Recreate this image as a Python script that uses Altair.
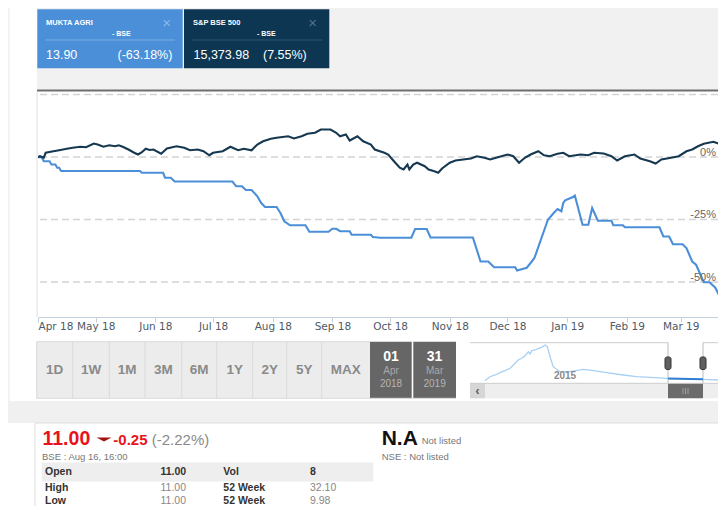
import altair as alt
import pandas as pd

# ---------------- chart values ----------------
mukta_dates = [
    "2018-04-01", "2018-04-03", "2018-04-04", "2018-04-07", "2018-04-08", "2018-04-10",
    "2018-04-11", "2018-04-12", "2018-04-13", "2018-05-24", "2018-05-25", "2018-06-05",
    "2018-06-06", "2018-06-09", "2018-06-11", "2018-07-11", "2018-07-13", "2018-07-16",
    "2018-07-18", "2018-07-21", "2018-07-24", "2018-07-26", "2018-07-28", "2018-08-03",
    "2018-08-05", "2018-08-07", "2018-08-10", "2018-08-18", "2018-08-20", "2018-08-30",
    "2018-09-01", "2018-09-03", "2018-09-05", "2018-09-10", "2018-09-11", "2018-09-21",
    "2018-09-22", "2018-09-26", "2018-10-12", "2018-10-14", "2018-10-20", "2018-10-22",
    "2018-11-13", "2018-11-17", "2018-11-21", "2018-11-24", "2018-12-05", "2018-12-06",
    "2018-12-11", "2018-12-13", "2018-12-15", "2018-12-22", "2018-12-25", "2018-12-27",
    "2018-12-29", "2018-12-30", "2018-12-31", "2019-01-04", "2019-01-05", "2019-01-09",
    "2019-01-12", "2019-01-14", "2019-01-17", "2019-01-24", "2019-01-25", "2019-01-30",
    "2019-01-31", "2019-02-18", "2019-02-20", "2019-02-23", "2019-02-25", "2019-03-02",
    "2019-03-04", "2019-03-07", "2019-03-09", "2019-03-13", "2019-03-16", "2019-03-19",
    "2019-03-25", "2019-03-27",
]
mukta_pct = [
    0.0, -0.2, -1.7, -1.7, -3.0, -3.0,
    -4.3, -4.3, -5.6, -5.6, -6.3, -6.3,
    -8.3, -8.3, -9.8, -9.8, -11.7, -11.7,
    -13.2, -13.2, -15.7, -18.4, -20.0, -20.0,
    -22.4, -25.7, -27.3, -27.3, -29.9, -29.9,
    -28.7, -28.7, -29.7, -29.7, -31.1, -31.1,
    -32.0, -32.3, -32.3, -28.8, -28.8, -32.2,
    -32.2, -41.8, -41.8, -44.1, -44.1, -45.4,
    -44.3, -42.4, -40.4, -25.1, -22.4, -20.8,
    -21.7, -18.4, -17.3, -16.0, -15.4, -27.1,
    -27.1, -20.4, -25.5, -25.5, -27.3, -27.3,
    -28.1, -28.1, -31.8, -31.8, -34.9, -34.9,
    -36.4, -41.8, -43.1, -50.1, -50.1, -52.3,
    -61.6, -63.18,
]

sp_dates = [
    "2018-04-01", "2018-04-02", "2018-04-04", "2018-04-05", "2018-04-09", "2018-04-12",
    "2018-04-16", "2018-04-19", "2018-04-23", "2018-04-26", "2018-04-30", "2018-05-02",
    "2018-05-05", "2018-05-08", "2018-05-11", "2018-05-13", "2018-05-15", "2018-05-18",
    "2018-05-21", "2018-05-23", "2018-05-25", "2018-05-27", "2018-05-29", "2018-05-31",
    "2018-06-04", "2018-06-07", "2018-06-12", "2018-06-16", "2018-06-19", "2018-06-23",
    "2018-06-26", "2018-06-29", "2018-07-01", "2018-07-06", "2018-07-10", "2018-07-14",
    "2018-07-17", "2018-07-21", "2018-07-24", "2018-07-27", "2018-07-31", "2018-08-03",
    "2018-08-09", "2018-08-12", "2018-08-16", "2018-08-19", "2018-08-23", "2018-08-26",
    "2018-08-31", "2018-09-03", "2018-09-05", "2018-09-08", "2018-09-10", "2018-09-14",
    "2018-09-17", "2018-09-21", "2018-09-23", "2018-09-28", "2018-09-30", "2018-10-03",
    "2018-10-06", "2018-10-08", "2018-10-10", "2018-10-11", "2018-10-13", "2018-10-15",
    "2018-10-19", "2018-10-21", "2018-10-24", "2018-10-26", "2018-10-28", "2018-11-01",
    "2018-11-04", "2018-11-08", "2018-11-12", "2018-11-15", "2018-11-19", "2018-11-22",
    "2018-11-26", "2018-12-01", "2018-12-04", "2018-12-07", "2018-12-10", "2018-12-13",
    "2018-12-17", "2018-12-20", "2018-12-23", "2018-12-27", "2018-12-30", "2019-01-02",
    "2019-01-08", "2019-01-12", "2019-01-15", "2019-01-20", "2019-01-24", "2019-01-27",
    "2019-01-31", "2019-02-05", "2019-02-08", "2019-02-13", "2019-02-16", "2019-02-19",
    "2019-02-24", "2019-02-28", "2019-03-04", "2019-03-07", "2019-03-10", "2019-03-13",
    "2019-03-18", "2019-03-21", "2019-03-23", "2019-03-25", "2019-03-27",
]
sp_pct = [
    -0.1, 0.3, -0.3, 1.7, 2.3, 2.7,
    3.3, 3.7, 4.1, 3.9, 5.4, 5.0,
    4.1, 4.7, 4.3, 4.7, 4.1, 3.0,
    1.7, 1.0, 1.9, 3.3, 2.8, 3.0,
    1.3, 3.4, 4.3, 3.7, 2.7, 3.0,
    2.3, 0.7, 1.7, 2.3, 4.1, 2.7,
    3.3, 2.7, 5.0, 6.3, 7.3, 7.7,
    8.3, 7.4, 8.3, 9.3, 9.7, 11.0,
    11.0, 9.7, 8.3, 9.0, 6.6, 8.3,
    6.3, 5.0, 3.0, 1.7, 1.0, -1.7,
    -4.3, -5.0, -3.0, -5.0, -3.0, -2.3,
    -3.7, -5.0, -5.7, -6.3, -4.6, -2.3,
    -1.4, -1.0, -0.6, 0.3, -0.3, -1.0,
    -0.1, 1.0, 0.3, -2.3, -0.3, 1.0,
    2.3, 0.7, 0.3, 1.3, 1.7, 0.3,
    1.0, 0.7, 1.7, 1.4, 0.3, -1.4,
    0.3, 1.0, -0.6, -1.7, -2.6, -1.0,
    -0.3, 0.3, 2.3, 3.0, 4.3, 5.3,
    6.1, 5.3, 6.2, 5.7, 7.55,
]

series_names = ["MUKTA AGRI", "S&P BSE 500"]
series_colors = ["#4a8fd8", "#163850"]
grid_levels = [25, 0, -25, -50]
pct_labels = [0, -25, -50]

# navigator (full history, relative level)
nav_years = [2013.02, 2013.16, 2013.31, 2013.45, 2013.59, 2013.74, 2013.88, 2013.97,
             2014.07, 2014.16, 2014.26, 2014.31, 2014.36, 2014.45, 2014.55, 2014.64,
             2014.74, 2014.80, 2014.88, 2014.97, 2015.16, 2015.45, 2015.83, 2016.12,
             2016.50, 2016.97, 2017.35, 2017.74, 2018.21, 2018.25, 2018.59, 2018.88,
             2019.25, 2019.68]
nav_level = [0.8, 11.9, 16.7, 23.1, 28.6, 35.3, 49.2, 58.3,
             63.1, 69.4, 81.4, 75.0, 84.2, 86.1, 90.8, 93.6,
             100.0, 95.3, 67.5, 39.7, 25.8, 25.8, 32.5, 28.6,
             23.1, 16.7, 11.9, 10.3, 7.5, 6.9, 6.2, 5.5,
             4.7, 2.8]
nav_window = [2018.25, 2019.25]

# ---------------- layout ----------------
W, H = 680, 225          # plot area
LEFT, TOP = 38, 92       # page position of the plot origin
FONT = "Liberation Sans"


def X(v):
    return round(v - LEFT, 2)


def Y(v):
    return round(v - TOP, 2)


NOAX = dict(scale=None, axis=None)

# ---------------- main chart ----------------
df_lines = pd.concat([
    pd.DataFrame({"date": pd.to_datetime(mukta_dates), "pct": mukta_pct, "series": series_names[0]}),
    pd.DataFrame({"date": pd.to_datetime(sp_dates), "pct": sp_pct, "series": series_names[1]}),
], ignore_index=True)

x_scale = alt.Scale(domain=[alt.DateTime(year=2018, month=4, date=1),
                            alt.DateTime(year=2019, month=3, date=20, hours=9, minutes=36)])
y_scale = alt.Scale(domain=[-64, 26], nice=False, zero=False)

x_axis = alt.Axis(title=None, format="%b %y", tickCount={"interval": "month", "step": 1},
                  labelFlush=True, labelOverlap=False, grid=False,
                  domainColor="#c3d0de", tickColor="#c3d0de", tickSize=5,
                  labelColor="#4d5a66", labelFont="DejaVu Sans", labelFontSize=10.5,
                  labelPadding=-1)

lines = alt.Chart(df_lines).mark_line(strokeWidth=2.1, clip=True).encode(
    x=alt.X("date:T", scale=x_scale, axis=x_axis),
    y=alt.Y("pct:Q", scale=y_scale, axis=None),
    color=alt.Color("series:N", scale=alt.Scale(domain=series_names, range=series_colors), legend=None),
)

grid = alt.Chart(pd.DataFrame({"level": grid_levels})).mark_rule(
    color="#d4d4d4", strokeWidth=1.3, strokeDash=[7, 4]
).encode(y=alt.Y("level:Q", scale=y_scale, axis=None))

pct_df = pd.DataFrame({"level": pct_labels, "label": [f"{v}%" for v in pct_labels]})
pct_text = alt.Chart(pct_df).mark_text(
    align="right", baseline="alphabetic", dy=-1.5, font=FONT, fontSize=11, color="#666666"
).encode(x=alt.value(X(716)), y=alt.Y("level:Q", scale=y_scale, axis=None), text="label:N")

main = alt.layer(grid, lines, pct_text)

# ---------------- navigator ----------------
nav_df = pd.DataFrame({"yr": nav_years, "lvl": nav_level})
nav_sel_df = nav_df[(nav_df.yr >= nav_window[0]) & (nav_df.yr <= nav_window[1])]
nav_x = alt.Scale(domain=[2013, 2020], range=[X(484.25), X(729.25)])
nav_y = alt.Scale(domain=[0, 100], range=[Y(381), Y(345)])
nav_light = alt.Chart(nav_df).mark_line(color="#a9d0f2", strokeWidth=1.3).encode(
    x=alt.X("yr:Q", scale=nav_x, axis=None), y=alt.Y("lvl:Q", scale=nav_y, axis=None))
nav_sel = alt.Chart(nav_sel_df).mark_line(color="#2f7fd2", strokeWidth=2).encode(
    x=alt.X("yr:Q", scale=nav_x, axis=None), y=alt.Y("lvl:Q", scale=nav_y, axis=None))
nav = alt.layer(nav_light, nav_sel)

# ---------------- page furniture (page coordinates) ----------------
rects = [
    (37, 726, 8, 90, "#f1f1f1"),
    (37.3, 182.7, 9.3, 68.3, "#4a8fd7"),
    (184, 329.3, 9.3, 68.3, "#0d3652"),
    (37, 726, 89.5, 91.5, "#6f6f6f"),
    (36.7, 370, 341.7, 398.3, "#ececec"),
    (370, 411.7, 341.7, 398.3, "#666666"),
    (413.3, 456, 341.7, 398.3, "#666666"),
    (470, 726, 383.3, 398.3, "#eeeeee"),
    (470, 485, 383.3, 398.3, "#d6d6d6"),
    (668, 703, 383.3, 398.3, "#6b6b6b"),
    (8, 726, 401, 423, "#f0f0f0"),
    (41.7, 373.3, 462.5, 481.5, "#eeeeee"),
]
rect_df = pd.DataFrame(rects, columns=["x", "x2", "y", "y2", "fill"])
rect_df[["x", "x2"]] = rect_df[["x", "x2"]].map(X)
rect_df[["y", "y2"]] = rect_df[["y", "y2"]].map(Y)
rect_layer = alt.Chart(rect_df).mark_rect().encode(
    x=alt.X("x:Q", **NOAX), x2="x2:Q", y=alt.Y("y:Q", **NOAX), y2="y2:Q",
    color=alt.Color("fill:N", scale=None))

rules = [
    (9, 9, 8, 401, "#e6e6e6"),
    (37, 37, 91.5, 317, "#e0e0e0"),
    (45, 175, 40, 40, "#7aaee5"),
    (192, 322, 40, 40, "#2e5672"),
    (36.7, 370, 341.7, 341.7, "#dadada"),
    (36.7, 456, 398.3, 398.3, "#dadada"),
    (36.7, 36.7, 341.7, 398.3, "#dadada"),
    (470, 668, 342.7, 342.7, "#cccccc"),
    (703, 726, 342.7, 342.7, "#cccccc"),
    (668, 668, 342.7, 383.3, "#bbbbbb"),
    (703, 703, 342.7, 383.3, "#bbbbbb"),
    (470, 726, 383.3, 383.3, "#cccccc"),
    (683, 683, 388, 394, "#a0a0a0"),
    (685.5, 685.5, 388, 394, "#a0a0a0"),
    (688, 688, 388, 394, "#a0a0a0"),
    (35, 726, 423, 423, "#dddddd"),
    (35, 35, 423, 519, "#dddddd"),
]
for sx in [72.7, 109.3, 145, 181.7, 216.7, 252.7, 286.7, 321.7]:
    rules.append((sx, sx, 341.7, 398.3, "#dadada"))
rule_df = pd.DataFrame(rules, columns=["x", "x2", "y", "y2", "c"])
rule_df[["x", "x2"]] = rule_df[["x", "x2"]].map(X)
rule_df[["y", "y2"]] = rule_df[["y", "y2"]].map(Y)
rule_layer = alt.Chart(rule_df).mark_rule(strokeWidth=1).encode(
    x=alt.X("x:Q", **NOAX), x2="x2:Q", y=alt.Y("y:Q", **NOAX), y2="y2:Q",
    color=alt.Color("c:N", scale=None))

handles = pd.DataFrame([(665, 671, 357, 369.5), (700, 706, 357, 369.5)],
                       columns=["x", "x2", "y", "y2"])
handles[["x", "x2"]] = handles[["x", "x2"]].map(X)
handles[["y", "y2"]] = handles[["y", "y2"]].map(Y)
handle_layer = alt.Chart(handles).mark_rect(
    cornerRadius=2, fill="#606060", stroke="#333333", strokeWidth=1).encode(
    x=alt.X("x:Q", **NOAX), x2="x2:Q", y=alt.Y("y:Q", **NOAX), y2="y2:Q")

tri_layer = alt.Chart(pd.DataFrame({"k": [0]})).mark_point(
    shape="M-1,-0.27L1,-0.27L0,0.27Z", filled=True, size=225, color="#a31212", opacity=1
).encode(x=alt.value(X(104)), y=alt.value(Y(439.5)))

texts = [
    ("MUKTA AGRI", 46, 23, 7.5, "#ffffff", "bold", "left"),
    ("- BSE", 112, 33.5, 7, "#ffffff", "bold", "left"),
    ("13.90", 46, 54.5, 12.5, "#ffffff", "normal", "left"),
    ("(-63.18%)", 117.5, 54.5, 12.5, "#ffffff", "normal", "left"),
    ("\u00d7", 166.5, 22.5, 15, "#8cb9e8", "normal", "center"),
    ("S&P BSE 500", 193, 23, 7.5, "#ffffff", "bold", "left"),
    ("- BSE", 257, 33.5, 7, "#ffffff", "bold", "left"),
    ("15,373.98", 193.5, 54.5, 12.5, "#ffffff", "normal", "left"),
    ("(7.55%)", 263, 54.5, 12.5, "#ffffff", "normal", "left"),
    ("\u00d7", 312.5, 22.5, 15, "#55728a", "normal", "center"),
    ("1D", 54.7, 370, 13.5, "#8a8a8a", "bold", "center"),
    ("1W", 91, 370, 13.5, "#8a8a8a", "bold", "center"),
    ("1M", 127.2, 370, 13.5, "#8a8a8a", "bold", "center"),
    ("3M", 163.3, 370, 13.5, "#8a8a8a", "bold", "center"),
    ("6M", 199.2, 370, 13.5, "#8a8a8a", "bold", "center"),
    ("1Y", 234.7, 370, 13.5, "#8a8a8a", "bold", "center"),
    ("2Y", 269.7, 370, 13.5, "#8a8a8a", "bold", "center"),
    ("5Y", 304.2, 370, 13.5, "#8a8a8a", "bold", "center"),
    ("MAX", 345.8, 370, 13.5, "#8a8a8a", "bold", "center"),
    ("01", 391, 357, 14, "#ffffff", "bold", "center"),
    ("Apr", 391, 370.5, 10, "#a8a8a8", "normal", "center"),
    ("2018", 391, 383.5, 10, "#b5b5b5", "normal", "center"),
    ("31", 434.6, 357, 14, "#ffffff", "bold", "center"),
    ("Mar", 434.6, 370.5, 10, "#a8a8a8", "normal", "center"),
    ("2019", 434.6, 383.5, 10, "#b5b5b5", "normal", "center"),
    ("2015", 565, 376, 10, "#8a8a8a", "bold", "center"),
    ("\u2039", 477.5, 390.5, 12, "#555555", "bold", "center"),
    ("11.00", 42.5, 438.5, 19.5, "#e8141b", "bold", "left"),
    ("-0.25", 113.3, 439.5, 15, "#e8141b", "bold", "left"),
    ("(-2.22%)", 151.7, 439.5, 15, "#8a8a8a", "normal", "left"),
    ("BSE : Aug 16, 16:00", 42, 456.5, 9.5, "#777777", "normal", "left"),
    ("Open", 45, 472, 10.5, "#333333", "bold", "left"),
    ("11.00", 160.5, 472, 10.5, "#333333", "bold", "left"),
    ("Vol", 223.3, 472, 10.5, "#333333", "bold", "left"),
    ("8", 310, 472, 10.5, "#333333", "bold", "left"),
    ("High", 45, 487.5, 10.5, "#333333", "bold", "left"),
    ("11.00", 160.5, 487.5, 10.5, "#888888", "normal", "left"),
    ("52 Week", 223.3, 487.5, 10.5, "#333333", "bold", "left"),
    ("32.10", 310, 487.5, 10.5, "#888888", "normal", "left"),
    ("Low", 45, 501, 10.5, "#333333", "bold", "left"),
    ("11.00", 160.5, 501, 10.5, "#888888", "normal", "left"),
    ("52 Week", 223.3, 501, 10.5, "#333333", "bold", "left"),
    ("9.98", 310, 501, 10.5, "#888888", "normal", "left"),
    ("N.A", 381.7, 438.5, 21, "#111111", "bold", "left"),
    ("Not listed", 421.7, 441, 9.5, "#777777", "normal", "left"),
    ("NSE : Not listed", 381.7, 456.5, 9.5, "#777777", "normal", "left"),
]
text_df = pd.DataFrame(texts, columns=["text", "x", "y", "size", "color", "weight", "align"])
text_df["x"] = text_df["x"].map(X)
text_df["y"] = text_df["y"].map(Y)
text_layers = []
for (wt, al), g in text_df.groupby(["weight", "align"]):
    text_layers.append(
        alt.Chart(g).mark_text(font=FONT, fontWeight=wt, align=al, baseline="middle").encode(
            x=alt.X("x:Q", **NOAX), y=alt.Y("y:Q", **NOAX), text="text:N",
            color=alt.Color("color:N", scale=None), size=alt.Size("size:Q", scale=None)))

chart = alt.layer(
    rect_layer, rule_layer, main, nav, handle_layer, tri_layer, *text_layers
).resolve_scale(x="independent", y="independent").properties(
    width=W, height=H,
    autosize=alt.AutoSizeParams(type="none"),
    padding={"left": 30, "top": 84, "right": 0, "bottom": 189},
    background="#ffffff",
).configure_view(stroke=None)

chart.save("out.html", embed_options={"renderer": "svg", "actions": False})
